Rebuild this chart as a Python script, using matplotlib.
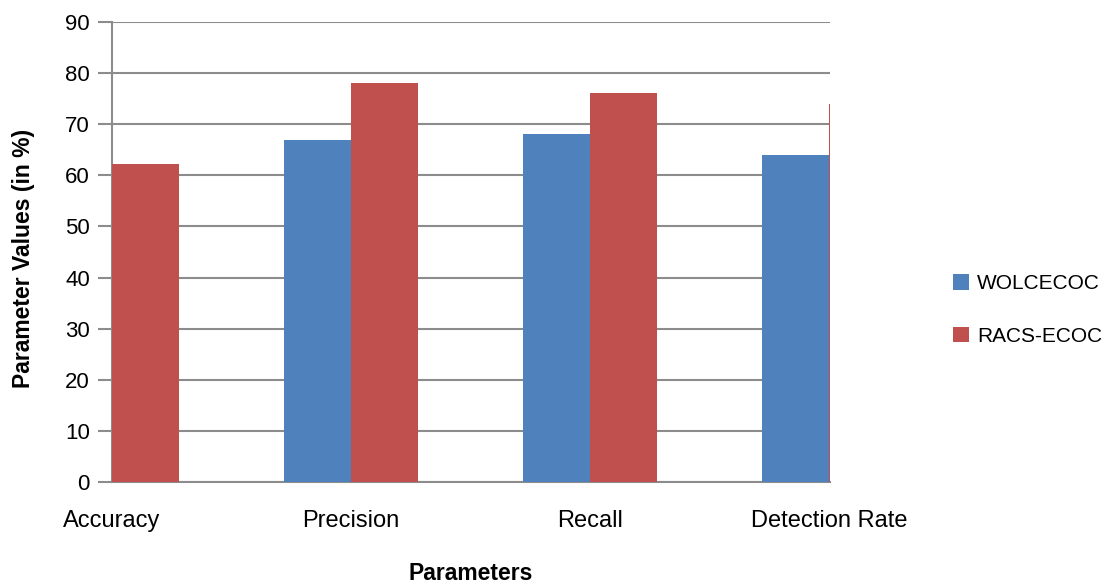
import matplotlib.pyplot as plt
import numpy as np

plt.rcParams['font.family'] = ['Liberation Sans', 'DejaVu Sans']

categories = ['Accuracy', 'Precision', 'Recall', 'Detection Rate']
wolcecoc = [55, 67, 68, 64]
racs_ecoc = [62.2, 78, 76.2, 74]

fig = plt.figure(figsize=(11.05, 5.86), dpi=100)
ax = fig.add_axes([112/1105, 104/586, 718/1105, 460/586])

x = np.arange(len(categories))
w = 0.28
ax.bar(x - w, wolcecoc, w, align='edge', color='#4F81BD', label='WOLCECOC', zorder=3)
ax.bar(x, racs_ecoc, w, align='edge', color='#C0504D', label='RACS-ECOC', zorder=3)

ax.set_xlim(0, 3.004)
ax.set_ylim(0, 90)
ax.set_yticks(range(0, 91, 10))
ax.set_xticks(x)
ax.set_xticklabels(categories)
ax.yaxis.grid(True, color='#8c8c8c', linewidth=1.5, zorder=0)
for s in ['top', 'right']:
    ax.spines[s].set_visible(False)
for s in ['left', 'bottom']:
    ax.spines[s].set_color('#8c8c8c')
    ax.spines[s].set_linewidth(1.5)
ax.tick_params(axis='y', length=10, width=1.5, color='#8c8c8c', labelsize=16, pad=6)
ax.tick_params(axis='x', length=0, labelsize=17, pad=20)

# axis titles placed by hand
fig.text(24/1105, 1 - 258/586, 'Parameter Values (in %)', rotation=90, fontsize=16.5,
         fontweight='bold', ha='center', va='center')
fig.text(471/1105, 1 - 574/586, 'Parameters', fontsize=16.5, fontweight='bold',
         ha='center', va='center')

fig.legend(loc='center left', bbox_to_anchor=(943/1105, 1 - 310/586), frameon=False, borderpad=0,
           fontsize=15, handlelength=0.75, handleheight=0.75, labelspacing=1.6, handletextpad=0.4)

fig.savefig('out.png', dpi=100)
